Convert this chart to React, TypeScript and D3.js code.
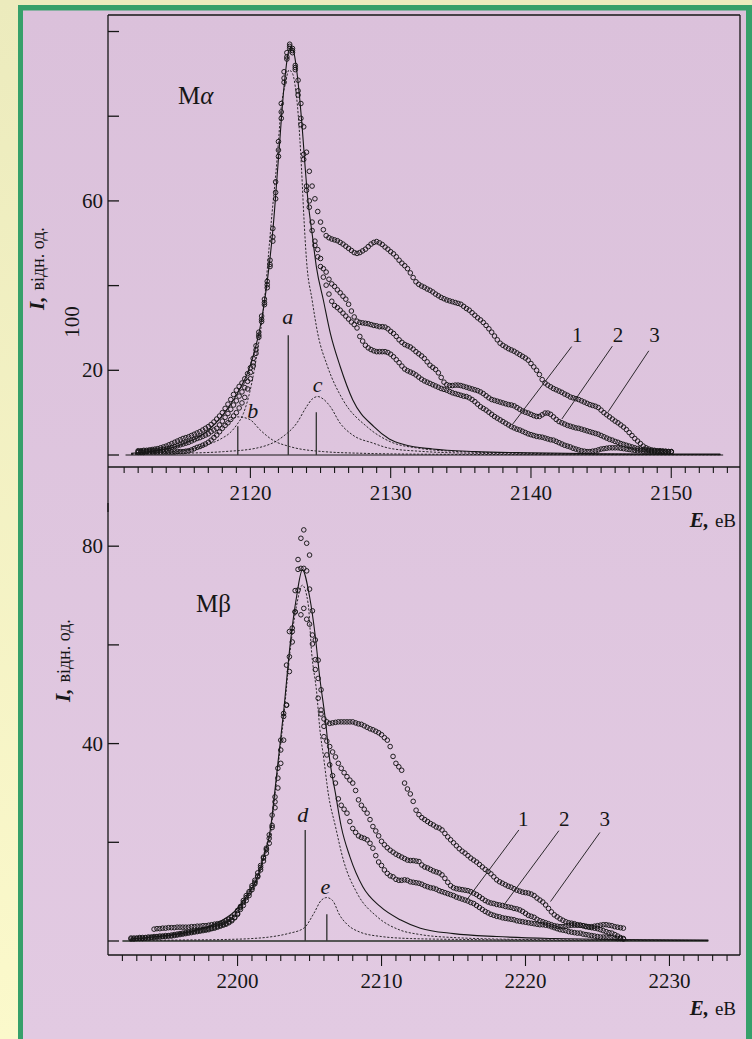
import React from "react";
import * as d3 from "d3";

// Mα spectra 1,2,3 : energy grid 2112.0 … 2150.0 eV, step 0.2 eV
const maStart = 2112.0;
const maSpec1 = [
  0.6, 0.6, 0.6, 0.7, 0.7, 0.7, 0.7, 0.7, 0.7, 0.7,
  0.7, 0.7, 0.7, 0.7, 0.8, 0.8, 0.8, 0.9, 1.0, 1.2,
  1.5, 1.8, 2.0, 2.3, 2.6, 3.0, 3.5, 4.1, 4.7, 5.5,
  6.3, 7.0, 7.6, 8.4, 9.2, 10.0, 11.1, 12.3, 13.6, 15.6,
  18.0, 21.0, 24.0, 27.8, 31.5, 35.5, 39.5, 44.5, 50.5, 60.5,
  70.5, 79.5, 88.0, 93.5, 96.0, 95.0, 91.5, 85.0, 78.0, 69.8,
  62.5, 58.5, 53.0, 49.5, 46.8, 44.5, 42.0, 40.1, 38.0, 36.3,
  35.3, 34.8, 34.2, 33.5, 32.8, 32.1, 31.4, 30.8, 30.0, 28.0,
  26.9, 25.9, 25.3, 24.9, 24.6, 24.4, 24.4, 24.4, 24.4, 24.2,
  23.8, 23.2, 22.5, 21.8, 21.0, 20.3, 19.9, 19.6, 19.3, 18.9,
  18.4, 17.9, 17.5, 17.2, 16.9, 16.6, 16.3, 16.0, 15.7, 15.5,
  15.3, 15.0, 14.7, 14.5, 14.3, 14.1, 13.9, 13.8, 13.5, 13.1,
  12.6, 12.0, 11.4, 11.0, 10.6, 10.1, 9.6, 9.1, 8.7, 8.3,
  7.9, 7.5, 7.1, 6.7, 6.4, 6.1, 5.9, 5.6, 5.3, 5.0,
  4.8, 4.6, 4.4, 4.3, 4.2, 4.0, 3.8, 3.6, 3.5, 3.2,
  2.9, 2.6, 2.3, 2.1, 1.9, 1.6, 1.4, 1.2, 1.0, 0.9,
  0.8, 0.8, 0.9, 1.0, 1.2, 1.4, 1.5, 1.6, 1.7, 1.7,
  1.7, 1.7, 1.6, 1.5, 1.4, 1.3, 1.2, 1.1, 1.0, 1.0,
  0.9, 0.9, 0.9, 0.8, 0.8, 0.8, 0.8, 0.8, 0.7, 0.7,
  0.7,
];
const maSpec2 = [
  0.8, 0.8, 0.9, 0.9, 1.0, 1.0, 1.1, 1.1, 1.2, 1.3,
  1.4, 1.6, 1.8, 2.0, 2.2, 2.4, 2.6, 2.8, 3.0, 3.3,
  3.6, 3.9, 4.1, 4.4, 4.7, 5.0, 5.5, 5.9, 6.3, 7.1,
  8.0, 8.9, 9.8, 10.8, 11.8, 12.8, 13.9, 14.9, 15.9, 17.4,
  19.5, 21.8, 24.8, 28.3, 32.0, 36.0, 40.2, 45.0, 51.5, 62.0,
  72.0, 81.0, 89.0, 94.0, 96.5, 96.0, 91.0, 86.0, 79.5, 71.0,
  63.5, 60.0, 55.0, 50.5, 48.5, 46.4, 44.0, 43.2, 41.5, 40.4,
  39.8, 39.0, 38.3, 37.5, 36.8, 35.6, 34.0, 32.6, 31.6, 31.3,
  31.2, 31.1, 31.0, 30.8, 30.6, 30.5, 30.3, 30.3, 30.2, 29.8,
  29.2, 28.7, 28.0, 27.2, 26.6, 26.1, 25.8, 25.5, 25.0, 24.4,
  23.9, 23.4, 22.8, 22.0, 21.2, 20.7, 20.2, 19.4, 18.3, 17.2,
  16.6, 16.4, 16.4, 16.5, 16.5, 16.4, 16.2, 16.0, 15.8, 15.6,
  15.4, 15.2, 14.9, 14.5, 14.0, 13.5, 13.1, 12.9, 12.7, 12.5,
  12.3, 12.1, 11.9, 11.8, 11.6, 11.2, 10.8, 10.4, 10.1, 9.9,
  9.6, 9.3, 9.1, 9.1, 9.5, 9.9, 9.9, 9.6, 9.0, 8.4,
  7.9, 7.6, 7.3, 7.0, 6.8, 6.6, 6.4, 6.3, 6.1, 5.9,
  5.7, 5.5, 5.3, 5.1, 4.9, 4.6, 4.3, 4.0, 3.7, 3.5,
  3.2, 3.0, 2.7, 2.5, 2.3, 2.1, 1.9, 1.7, 1.5, 1.4,
  1.3, 1.2, 1.1, 1.0, 1.0, 0.9, 0.9, 0.9, 0.8, 0.8,
  0.8,
];
const maSpec3 = [
  1.0, 1.0, 1.1, 1.1, 1.2, 1.3, 1.4, 1.5, 1.7, 1.9,
  2.1, 2.4, 2.7, 3.0, 3.3, 3.6, 3.9, 4.1, 4.3, 4.6,
  4.9, 5.2, 5.5, 5.9, 6.3, 6.7, 7.2, 7.8, 8.5, 9.2,
  10.0, 11.0, 12.0, 13.1, 14.3, 15.3, 16.2, 17.0, 18.0, 19.2,
  20.6, 22.8, 25.8, 29.0, 32.8, 36.8, 41.0, 46.0, 53.5, 64.5,
  74.0, 83.0, 90.5, 95.0, 97.0, 95.5, 92.0, 88.5, 83.0, 77.5,
  71.5, 67.0, 63.5, 60.5, 57.5, 55.0, 53.2, 51.8, 51.3, 51.0,
  50.8, 50.6, 50.2, 49.8, 49.3, 48.8, 48.3, 47.8, 47.6, 47.8,
  48.2, 48.6, 49.2, 49.8, 50.2, 50.4, 50.1, 49.7, 49.1, 48.6,
  48.0, 47.5, 46.8, 46.0, 45.3, 44.7, 44.0, 43.0, 41.9, 40.9,
  40.3, 39.9, 39.6, 39.2, 38.9, 38.5, 38.0, 37.6, 37.2, 36.9,
  36.6, 36.4, 36.2, 36.0, 35.8, 35.6, 35.1, 34.6, 34.2, 33.6,
  33.0, 32.4, 31.9, 31.3, 30.6, 29.8, 29.0, 28.1, 27.2, 26.4,
  25.9, 25.5, 25.1, 24.8, 24.5, 24.1, 23.7, 23.3, 22.9, 22.4,
  21.6, 20.8, 20.0, 19.0, 17.8, 17.0, 16.5, 16.1, 15.7, 15.4,
  15.1, 14.8, 14.4, 14.1, 13.7, 13.5, 13.3, 13.1, 12.8, 12.5,
  12.2, 11.9, 11.7, 11.5, 11.2, 10.6, 10.0, 9.5, 9.0, 8.5,
  8.0, 7.6, 7.1, 6.6, 6.0, 5.3, 4.6, 3.9, 3.3, 2.7,
  2.1, 1.7, 1.4, 1.2, 1.1, 1.0, 1.0, 0.9, 0.9, 0.8,
  0.8,
];

// Mα fit: total (solid) and components a, b, c (dashed)
const maFitE = [2111.5, 2113, 2114.5, 2115.5, 2116.5, 2117.5, 2118.5, 2119.2, 2119.8, 2120.3, 2120.8, 2121.2, 2121.6, 2122.0, 2122.4, 2122.7, 2122.9, 2123.1, 2123.4, 2123.7, 2123.9, 2124.1, 2124.4, 2124.7, 2125.2, 2125.7, 2126.4, 2127.3, 2128.8, 2129.9, 2131, 2133, 2136, 2140, 2145, 2150, 2153.5];
const maFitI = [0.4, 0.9, 1.8, 3.0, 4.6, 7.4, 11.5, 15.3, 19.4, 24.5, 32.0, 41.0, 53.0, 70.0, 87.0, 95.0, 96.3, 95.0, 88.0, 77.0, 68.1, 60.2, 52.3, 44.5, 36.6, 28.7, 20.9, 13.0, 6.7, 3.8, 2.4, 1.4, 0.8, 0.5, 0.3, 0.2, 0.2];
const maAE = [2111.5, 2113, 2114.5, 2116, 2117, 2118, 2118.5, 2119, 2119.5, 2120, 2120.5, 2121, 2121.5, 2121.9, 2122.2, 2122.5, 2122.75, 2123.0, 2123.2, 2123.4, 2123.65, 2123.8, 2124.0, 2124.4, 2124.8, 2125.5, 2126.6, 2128.3, 2130, 2132, 2135, 2140, 2145, 2150, 2153.5];
const maAI = [0.3, 0.5, 0.8, 1.6, 2.5, 4.0, 5.1, 7.0, 9.8, 15.5, 24.5, 36.5, 55.5, 69.7, 82.2, 87.8, 90.9, 90.1, 87.0, 80.7, 67.3, 57.0, 46.0, 36.6, 28.7, 20.9, 13.0, 6.7, 3.1, 1.6, 0.8, 0.4, 0.2, 0.1, 0.1];
const maBE = [2111.5, 2113.6, 2115.7, 2116.9, 2118.1, 2118.6, 2119.1, 2119.6, 2120.0, 2120.7, 2121.6, 2122.8, 2125.2, 2128, 2132, 2140, 2153.5];
const maBI = [0.2, 0.5, 1.2, 2.8, 6.7, 8.3, 9.0, 8.8, 8.3, 5.9, 3.5, 2.0, 0.8, 0.4, 0.2, 0.1, 0.05];
const maCE = [2111.5, 2115, 2118.1, 2120.4, 2122.3, 2123.3, 2124.0, 2124.4, 2124.8, 2125.2, 2125.7, 2126.4, 2127.3, 2128.75, 2129.9, 2132, 2136, 2142, 2153.5];
const maCI = [0.2, 0.4, 0.8, 1.6, 4.3, 7.5, 11.4, 13.2, 13.8, 13.2, 11.4, 7.5, 4.7, 2.8, 1.6, 0.9, 0.4, 0.2, 0.1];

// Mβ spectra 1,2,3 : energy grid 2192.6 … 2226.8 eV, step 0.2 eV
const mbStart = 2192.6;
const mbSpec1 = [
  0.4, 0.4, 0.5, 0.5, 0.5, 0.6, 0.6, 0.7, 0.7, 0.8,
  0.8, 0.9, 0.9, 1.0, 1.0, 1.1, 1.2, 1.3, 1.4, 1.5,
  1.6, 1.7, 1.8, 1.9, 2.0, 2.1, 2.2, 2.3, 2.5, 2.6,
  2.8, 3.0, 3.2, 3.4, 3.7, 4.1, 4.7, 5.4, 6.4, 7.2,
  8.2, 9.2, 10.4, 11.6, 13.0, 14.4, 16.2, 17.8, 19.8, 23.0,
  27.0, 31.0, 38.7, 45.5, 47.8, 54.6, 60.6, 66.7, 77.3, 81.6,
  83.3, 80.6, 78.2, 66.9, 61.0, 56.9, 50.9, 43.5, 37.7, 35.7,
  33.5, 32.0, 28.8, 27.5, 26.7, 25.9, 24.2, 22.8, 22.0, 21.3,
  21.0, 20.8, 20.5, 19.8, 18.8, 17.3, 16.0, 15.3, 14.4, 13.7,
  13.2, 13.0, 12.5, 12.3, 12.3, 12.4, 12.3, 12.0, 11.9, 11.8,
  11.7, 11.5, 11.2, 11.0, 10.8, 10.7, 10.5, 10.2, 10.0, 9.8,
  9.6, 9.4, 9.2, 8.9, 8.7, 8.5, 8.3, 8.1, 7.8, 7.6,
  7.2, 6.8, 6.4, 6.0, 5.7, 5.4, 5.2, 5.0, 4.9, 4.7,
  4.6, 4.5, 4.4, 4.3, 4.1, 4.0, 3.9, 3.8, 3.7, 3.6,
  3.5, 3.4, 3.3, 3.3, 3.2, 3.1, 2.9, 2.7, 2.5, 2.3,
  2.2, 2.1, 1.9, 1.8, 1.7, 1.6, 1.6, 1.4, 1.3, 1.2,
  1.1, 1.0, 0.9, 0.8, 0.8, 0.8, 0.7, 0.7, 0.6, 0.5,
  0.5, 0.4,
];
const mbSpec2 = [
  0.6, 0.6, 0.6, 0.7, 0.7, 0.7, 0.8, 0.8, 0.9, 0.9,
  1.0, 1.0, 1.1, 1.1, 1.2, 1.3, 1.4, 1.5, 1.6, 1.7,
  1.8, 1.9, 2.0, 2.1, 2.2, 2.3, 2.4, 2.5, 2.6, 2.8,
  3.0, 3.2, 3.4, 3.6, 3.9, 4.3, 4.8, 5.6, 6.8, 7.8,
  8.8, 9.7, 10.8, 11.9, 13.2, 14.9, 16.8, 18.5, 20.8, 23.4,
  28.2, 33.0, 40.7, 46.1, 55.9, 62.7, 63.4, 71.0, 75.3, 75.5,
  75.5, 75.0, 71.3, 62.0, 57.0, 53.2, 46.8, 41.4, 40.5, 39.4,
  38.3, 37.3, 36.0, 35.0, 34.1, 33.3, 32.6, 32.0, 30.5, 28.6,
  27.5, 26.7, 25.9, 24.6, 23.2, 22.3, 21.3, 20.2, 19.5, 18.9,
  18.4, 18.0, 17.6, 17.3, 17.0, 16.7, 16.4, 16.3, 16.3, 16.2,
  16.1, 15.4, 15.0, 14.8, 14.5, 14.2, 14.0, 13.8, 13.4, 12.7,
  11.9, 11.2, 10.8, 10.6, 10.5, 10.4, 10.3, 10.2, 10.0, 9.7,
  9.4, 9.0, 8.6, 8.2, 7.9, 7.7, 7.6, 7.4, 7.3, 7.2,
  7.0, 6.9, 6.8, 6.6, 6.5, 6.3, 6.0, 5.6, 5.2, 5.0,
  4.8, 4.4, 4.1, 3.9, 3.7, 3.5, 3.3, 3.1, 3.0, 2.9,
  2.9, 3.0, 3.1, 3.2, 3.2, 3.2, 3.2, 3.1, 2.9, 2.8,
  2.7, 2.6, 2.5, 2.3, 2.1, 1.9, 1.7, 1.6, 1.3, 1.0,
  0.7, 0.5,
];
const mbSpec3 = [
  null, null, null, null, null, null, null, null, 2.4, 2.5,
  2.5, 2.6, 2.6, 2.7, 2.7, 2.7, 2.8, 2.8, 2.8, 2.8,
  2.8, 2.9, 2.9, 3.0, 3.0, 3.1, 3.1, 3.2, 3.3, 3.4,
  3.5, 3.6, 3.8, 4.1, 4.4, 4.8, 5.4, 6.2, 7.0, 8.2,
  9.2, 10.0, 11.2, 12.3, 13.8, 15.3, 17.0, 18.8, 21.5, 25.5,
  29.2, 35.0, 36.0, 40.7, 47.8, 57.6, 62.7, 66.7, 71.1, 66.1,
  67.4, 65.2, 64.2, 60.2, 55.0, 49.2, 46.0, 45.0, 44.4, 44.1,
  44.2, 44.3, 44.4, 44.4, 44.4, 44.4, 44.4, 44.4, 44.2, 44.0,
  43.9, 43.6, 43.3, 43.0, 42.8, 42.5, 42.2, 41.8, 41.2, 40.7,
  39.4, 37.4, 36.0, 35.3, 34.6, 32.0, 30.8, 29.8, 28.3, 26.5,
  25.6, 25.0, 24.6, 24.2, 23.8, 23.5, 23.1, 22.9, 22.5, 21.8,
  21.1, 20.5, 19.9, 19.3, 18.7, 18.2, 17.8, 17.3, 16.8, 16.4,
  16.0, 15.5, 15.0, 14.5, 14.1, 13.6, 13.0, 12.4, 12.0, 11.7,
  11.4, 11.1, 10.9, 10.6, 10.3, 10.1, 9.9, 9.8, 9.7, 9.5,
  9.2, 8.7, 8.3, 7.9, 7.3, 6.6, 5.9, 5.3, 4.9, 4.5,
  4.2, 3.9, 3.7, 3.6, 3.5, 3.3, 3.2, 3.1, 3.0, 2.9,
  2.9, 3.0, 3.1, 3.2, 3.3, 3.3, 3.2, 3.1, 2.9, 2.8,
  2.7, 2.6,
];

// Mβ fit: total (solid) and components d, e (dashed)
const mbFitE = [2192.5, 2194.4, 2196.7, 2199.0, 2199.9, 2200.6, 2201.3, 2201.8, 2202.3, 2202.5, 2202.8, 2203.2, 2203.65, 2204.1, 2204.5, 2205.0, 2205.4, 2205.7, 2206.1, 2206.4, 2206.8, 2207.2, 2207.8, 2208.7, 2209.9, 2211.3, 2212.7, 2215, 2218, 2222, 2226, 2232.7];
const mbFitI = [0.4, 0.9, 1.9, 4.3, 6.3, 9.0, 12.4, 17.0, 23.0, 28.0, 36.0, 46.5, 60.0, 69.8, 75.2, 69.8, 61.7, 53.6, 44.8, 36.7, 29.9, 23.2, 17.1, 11.0, 7.0, 4.3, 2.6, 1.5, 0.9, 0.5, 0.3, 0.2];
const mbDE = [2192.5, 2194.4, 2196.7, 2199.0, 2199.9, 2200.6, 2201.3, 2201.8, 2202.3, 2202.5, 2202.8, 2203.2, 2203.65, 2204.1, 2204.5, 2204.9, 2205.15, 2205.5, 2205.7, 2206.0, 2206.3, 2206.8, 2207.35, 2208.3, 2209.7, 2211.3, 2212.7, 2215, 2220, 2226, 2232.7];
const mbDI = [0.3, 0.8, 1.7, 3.9, 5.8, 8.4, 11.6, 16.5, 21.8, 27.0, 35.0, 45.3, 58.8, 68.0, 72.1, 68.4, 58.3, 50.2, 43.4, 36.7, 29.9, 23.2, 16.4, 9.7, 4.9, 2.2, 1.3, 0.7, 0.3, 0.2, 0.1];
const mbEE = [2192.5, 2196, 2199, 2201, 2202.2, 2203.5, 2204.6, 2205.3, 2205.8, 2206.2, 2206.6, 2207.1, 2207.6, 2208.5, 2210, 2212, 2216, 2222, 2232.7];
const mbEI = [0.1, 0.2, 0.3, 0.5, 0.8, 1.5, 2.6, 5.6, 8.2, 8.8, 8.2, 5.2, 3.4, 1.8, 0.9, 0.5, 0.3, 0.15, 0.1];

// component positions and heights (vertical markers)
const maPeaks = [
  { name: "a", e: 2122.7, h: 28.3, lx: 2122.66, ly: 30.9 },
  { name: "b", e: 2119.1, h: 6.8, lx: 2120.16, ly: 8.7 },
  { name: "c", e: 2124.7, h: 10.1, lx: 2124.8, ly: 14.8 },
];
const mbPeaks = [
  { name: "d", e: 2204.7, h: 22.5, lx: 2204.52, ly: 24.2 },
  { name: "e", e: 2206.2, h: 5.4, lx: 2206.1, ly: 9.5 },
];

// curve numbers with leader lines: text at, line from -> to (energy, intensity)
const maCallouts = [
  { text: "1", at: [2143.3, 26.6], from: [2142.9, 25.6], to: [2138.7, 7.3] },
  { text: "2", at: [2146.2, 26.6], from: [2145.8, 25.7], to: [2142.2, 8.5] },
  { text: "3", at: [2148.8, 26.6], from: [2148.4, 24.6], to: [2145.5, 10.2] },
];
const mbCallouts = [
  { text: "1", at: [2219.85, 23.3], from: [2219.54, 22.5], to: [2215.95, 8.45] },
  { text: "2", at: [2222.7, 23.3], from: [2222.32, 22.35], to: [2218.5, 7.3] },
  { text: "3", at: [2225.5, 23.3], from: [2225.17, 22.0], to: [2221.74, 8.0] },
];

const maYTicks = [0, 20, 40, 60, 80, 100];
const maYLabels = [20, 60];
const maXMajor = [2120, 2130, 2140, 2150];
const mbYTicks = [0, 20, 40, 60, 80];
const mbYLabels = [40, 80];
const mbXMajor = [2200, 2210, 2220, 2230];

const serif = "'Liberation Serif', 'Times New Roman', serif";
const ink = "#161616";

function Panel({ x, y, specs, start, fits, peaks, callouts, yTicks, yLabels, xMajor, baseline, title, thickBase }) {
  const [x0, x1] = x.range();
  const [yb, yt] = y.range();
  const axisY = yb + (thickBase ? 14 : 12);
  const line = (es, is) =>
    d3.line().x((_, i) => x(es[i])).y((d) => y(d)).curve(d3.curveMonotoneX)(is);
  const minor = d3.range(Math.ceil(x.domain()[0] + 0.5), Math.floor(x.domain()[1]) + 1);
  return (
    <g>
      {/* baseline at zero intensity */}
      <line x1={x(baseline[0])} x2={x(baseline[1])} y1={y(0)} y2={y(0)}
        stroke={thickBase ? "#555" : ink} strokeWidth={thickBase ? 2 : 1} />
      {/* y ticks */}
      {yTicks.map((t) => (
        <line key={t} x1={x0} x2={x0 + 11} y1={y(t)} y2={y(t)} stroke={ink} strokeWidth={1.3} />
      ))}
      {yLabels.map((t) => (
        <text key={t} x={x0 - 5} y={y(t) + 7} textAnchor="end" fontSize={21} fontFamily={serif} fill={ink}>{t}</text>
      ))}
      {/* x axis with minor/major ticks */}
      <line x1={x0} x2={x1} y1={axisY} y2={axisY} stroke={ink} strokeWidth={1.3} />
      {minor.map((t) => (
        <line key={t} x1={x(t)} x2={x(t)} y1={axisY} y2={axisY + (xMajor.includes(t) ? 11 : 6)} stroke={ink} strokeWidth={1.1} />
      ))}
      {xMajor.map((t) => (
        <text key={t} x={x(t)} y={axisY + 33} textAnchor="middle" fontSize={21} fontFamily={serif} fill={ink}>{t}</text>
      ))}
      <text x={736} y={axisY + 60} textAnchor="end" fontFamily={serif} fill={ink}>
        <tspan fontSize={21} fontWeight="bold" fontStyle="italic">E,</tspan>
        <tspan fontSize={19} dx={6}>еВ</tspan>
      </text>
      {/* fitted curves */}
      {fits.map((f, i) => (
        <path key={i} d={line(f.e, f.i)} fill="none" stroke={ink}
          strokeWidth={f.dashed ? 0.9 : 1.1} strokeDasharray={f.dashed ? "2.2 1.6" : undefined} />
      ))}
      {peaks.map((p) => (
        <g key={p.name}>
          <line x1={x(p.e)} x2={x(p.e)} y1={y(0)} y2={y(p.h)} stroke="#3a3a3a" strokeWidth={1.4} />
          <text x={x(p.lx)} y={y(p.ly)} textAnchor="middle" fontSize={22} fontStyle="italic" fontFamily={serif} fill={ink}>{p.name}</text>
        </g>
      ))}
      {/* measured spectra */}
      <g fill="none" stroke={ink} strokeWidth={0.95}>
        {specs.map((s, k) =>
          s.map((v, i) =>
            v == null ? null : <circle key={k + "-" + i} cx={x(start + i * 0.2)} cy={y(v)} r={2.3} />
          )
        )}
      </g>
      {callouts.map((c) => (
        <g key={c.text}>
          <line x1={x(c.from[0])} y1={y(c.from[1])} x2={x(c.to[0])} y2={y(c.to[1])} stroke={ink} strokeWidth={0.9} />
          <text x={x(c.at[0])} y={y(c.at[1])} textAnchor="middle" fontSize={21} fontFamily={serif} fill={ink}>{c.text}</text>
        </g>
      ))}
      {title}
    </g>
  );
}

export default function App() {
  const xTop = d3.scaleLinear().domain([2109.85, 2154.9]).range([108, 740]);
  const yTop = d3.scaleLinear().domain([0, 103.9]).range([455, 15]);
  const xBot = d3.scaleLinear().domain([2191.0, 2234.9]).range([108, 740]);
  const yBot = d3.scaleLinear().domain([0, 88.75]).range([941, 503]);

  return (
    <svg width={752} height={1039} viewBox="0 0 752 1039"
      style={{ position: "absolute", left: 0, top: 0, display: "block" }}>
      <defs>
        <linearGradient id="bg" x1="0" y1="0" x2="0" y2="1">
          <stop offset="0" stopColor="#ecebbd" />
          <stop offset="1" stopColor="#fbf9cb" />
        </linearGradient>
        <linearGradient id="pink" x1="0" y1="0" x2="0" y2="1">
          <stop offset="0" stopColor="#dbc1db" />
          <stop offset="1" stopColor="#e2cae2" />
        </linearGradient>
      </defs>
      <rect width={752} height={1039} fill="url(#bg)" />
      <rect x={18} y={5} width={734} height={1034} fill="#36a06a" />
      <rect x={23} y={10.5} width={723} height={1028.5} fill="url(#pink)" />

      {/* frame */}
      <g stroke={ink} strokeWidth={1.3}>
        <line x1={108} x2={740} y1={15} y2={15} />
        <line x1={740} x2={740} y1={15} y2={955} />
        <line x1={108} x2={108} y1={15} y2={512} />
        <line x1={108} x2={108} y1={503} y2={955} />
      </g>

      <Panel x={xTop} y={yTop} specs={[maSpec1, maSpec2, maSpec3]} start={maStart}
        fits={[
          { e: maAE, i: maAI, dashed: true },
          { e: maBE, i: maBI, dashed: true },
          { e: maCE, i: maCI, dashed: true },
          { e: maFitE, i: maFitI, dashed: false },
        ]}
        peaks={maPeaks} callouts={maCallouts} yTicks={maYTicks} yLabels={maYLabels}
        xMajor={maXMajor} baseline={[2111.1, 2153.7]}
        title={
          <text x={178} y={104} fontSize={25} fontFamily={serif} fill={ink}>
            M<tspan fontStyle="italic">α</tspan>
          </text>
        }
      />
      <Panel x={xBot} y={yBot} specs={[mbSpec1, mbSpec2, mbSpec3]} start={mbStart}
        fits={[
          { e: mbDE, i: mbDI, dashed: true },
          { e: mbEE, i: mbEI, dashed: true },
          { e: mbFitE, i: mbFitI, dashed: false },
        ]}
        peaks={mbPeaks} callouts={mbCallouts} yTicks={mbYTicks} yLabels={mbYLabels}
        xMajor={mbXMajor} baseline={[2192.0, 2232.7]} thickBase
        title={
          <text x={196} y={612} fontSize={25} fontFamily={serif} fill={ink}>
            M<tspan>β</tspan>
          </text>
        }
      />

      {/* axis titles */}
      <text transform="translate(44,310) rotate(-90)" fontFamily={serif} fill={ink}>
        <tspan fontSize={21} fontWeight="bold" fontStyle="italic">I,</tspan>
        <tspan fontSize={18} dx={6}>відн. од.</tspan>
      </text>
      <text transform="translate(79,322) rotate(-90)" textAnchor="middle" fontSize={21} fontFamily={serif} fill={ink}>100</text>
      <text transform="translate(70,702) rotate(-90)" fontFamily={serif} fill={ink}>
        <tspan fontSize={21} fontWeight="bold" fontStyle="italic">I,</tspan>
        <tspan fontSize={18} dx={6}>відн. од.</tspan>
      </text>
    </svg>
  );
}
